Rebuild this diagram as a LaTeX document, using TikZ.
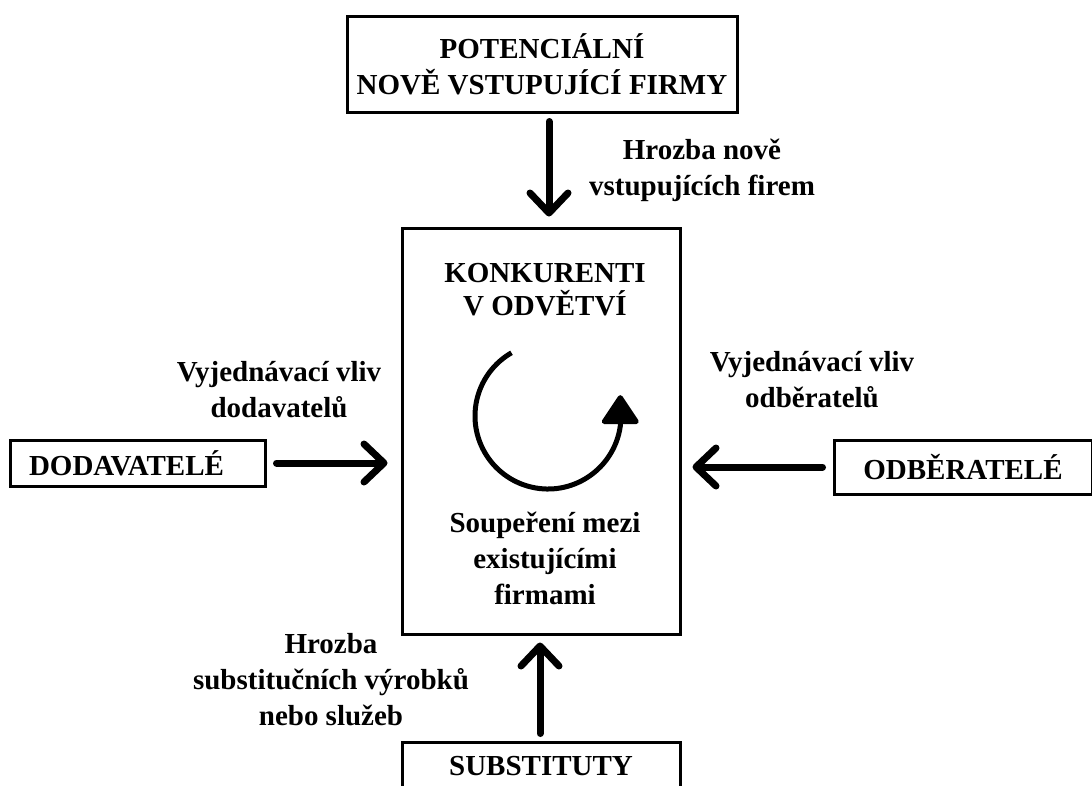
\documentclass[tikz,border=0pt]{standalone}
\usepackage{fontspec}
\setmainfont{Liberation Serif}
\usetikzlibrary{arrows.meta}
\tikzset{
  box/.style={draw, line width=3pt, align=center, inner sep=0pt,
    font=\bfseries\fontsize{29}{36}\selectfont},
  lbl/.style={align=center, anchor=base, inner sep=0pt, font=\bfseries\fontsize{29}{36}\selectfont},
  force/.style={-{Straight Barb[length=20pt, width=38pt, round]}, line width=7pt, line cap=round},
  rivalry/.style={-{Triangle[length=31pt, width=40pt, round]}, line width=5pt}
}

\begin{document}
\begin{tikzpicture}[x=1pt, y=-1pt]
\useasboundingbox (0,0) rectangle (1092,785);
% boxes
\node[box, minimum width=390, minimum height=96] (entrants) at (542,64.5) {POTENCIÁLNÍ\\NOVĚ VSTUPUJÍCÍ FIRMY};
\node[box, minimum width=278, minimum height=406] (rivals) at (541,431) {};
\node[box, text width=217, align=left, inner xsep=19, minimum height=46] (suppliers) at (137.5,463) {DODAVATELÉ};
\node[box, minimum width=258, minimum height=54] (buyers) at (963,467) {ODBĚRATELÉ};
\node[box, minimum width=278, minimum height=48] (substitutes) at (541,766) {SUBSTITUTY};

% texts in the middle box (base = last line)
\node[lbl, font=\bfseries\fontsize{29}{33}\selectfont] (rivalsTitle) at (545,315) {KONKURENTI\\V ODVĚTVÍ};
\node[lbl] (rivalsText) at (545,604) {Soupeření mezi\\existujícími\\firmami};
\draw[rivalry] (548,416) ++(240:73) arc (240:8:73) -- ++(0,-31);

% forces
\draw[force, shorten <=7.5pt, shorten >=10pt] (entrants.south -| 549,0) -- (rivals.north -| 549,0);
\draw[force, shorten <=10pt, shorten >=13pt] (suppliers.east) -- (suppliers.east -| rivals.west);
\draw[force, shorten <=10pt, shorten >=11pt] (buyers.west) -- (buyers.west -| rivals.east);
\draw[force, shorten <=7pt, shorten >=7pt] (substitutes.north -| 540,0) -- (rivals.south -| 540,0);

% labels
\node[lbl] (entryLbl) at (702,195) {Hrozba nově\\vstupujících firem};
\node[lbl] (supplierLbl) at (279,417) {Vyjednávací vliv\\dodavatelů};
\node[lbl] (buyerLbl) at (812,407) {Vyjednávací vliv\\odběratelů};
\node[lbl] (substLbl) at (331,725) {Hrozba\\substitučních výrobků\\nebo služeb};
\end{tikzpicture}
\end{document}
